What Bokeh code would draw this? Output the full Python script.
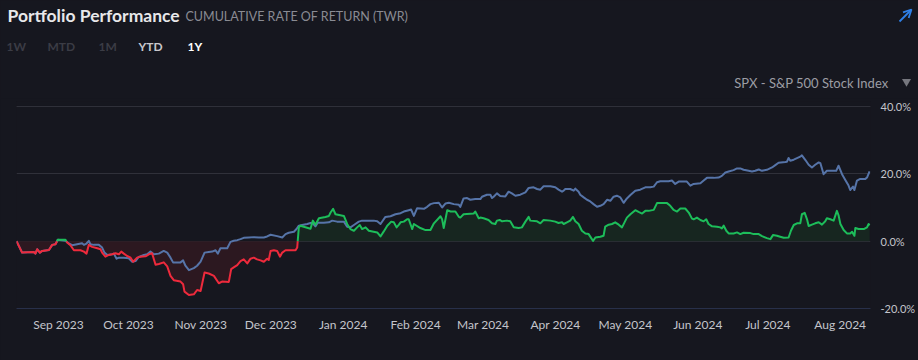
import numpy as np
import pandas as pd
from bokeh.plotting import figure
from bokeh.models import (Range1d, FixedTicker, PrintfTickFormatter, Arrow, OpenHead,
                          DatetimeTickFormatter, Span)
from bokeh.core.properties import value
from bokeh.embed import file_html
from bokeh.resources import INLINE

# ---------------- data ----------------
START = "2023-08-14"
END = "2024-08-14"

# portfolio: days since START, cumulative return in %
port_days = [0.0, 1.0, 2.4, 7.4, 8.1, 8.9, 10.0, 11.0, 13.9, 15.3, 16.7, 17.7, 21.0, 21.7, 23.1,
             24.6, 27.4, 28.9, 30.0, 31.0, 32.4, 34.6, 36.0, 36.7, 38.1, 39.6, 41.0, 42.4, 43.9,
             44.9, 46.0, 47.4, 48.9, 50.0, 51.7, 53.1, 55.3, 56.7, 58.1, 59.6, 61.0, 63.1, 64.6,
             66.0, 67.4, 70.3, 71.4, 72.0, 73.9, 76.0, 77.4, 78.9, 80.6, 82.4, 84.6, 86.7, 88.1,
             91.0, 92.0, 93.1, 94.6, 96.0, 97.4, 98.9, 100.3, 101.7, 103.1, 104.6, 106.0, 107.4,
             108.1, 108.9, 110.3, 111.7, 112.9, 113.9, 115.3, 119.6, 120.3, 121.0, 121.7, 123.1,
             126.0, 127.0, 128.1, 129.6, 132.4, 133.9, 134.6, 135.7, 136.7, 140.3, 141.7, 143.1,
             144.6, 146.0, 147.1, 148.1, 149.6, 151.0, 154.6, 156.0, 157.4, 158.9, 160.6, 161.7,
             162.9, 163.9, 164.6, 166.0, 167.4, 168.1, 169.6, 170.3, 173.1, 175.3, 177.4, 178.9,
             181.7, 182.4, 183.1, 184.6, 186.0, 188.1, 189.6,
             190.2, 191.6, 195.9, 196.6, 198.1, 198.8, 200.2, 202.3, 203.8, 205.2, 205.9, 207.1,
             208.1, 210.2, 211.6, 213.1, 215.2, 216.6, 218.1, 219.5, 220.2, 223.1, 224.5, 225.9,
             228.8, 230.9, 232.3, 233.8, 234.5, 235.9, 237.3, 238.5, 239.5, 240.9, 242.3, 243.8,
             245.2, 246.6, 247.1, 248.1, 250.2, 251.6, 252.3, 253.8, 255.2, 256.6, 258.1, 259.5,
             261.6, 263.1, 265.2, 266.6, 268.1, 269.5, 270.9, 273.1, 274.5, 275.9, 278.8, 280.2,
             281.6, 283.1, 284.5, 286.6, 288.1, 289.5, 290.2, 291.6, 293.1, 294.5, 295.6, 296.6,
             298.1, 300.2, 301.6, 302.3, 303.1, 304.2, 305.2, 307.3, 308.8, 310.2, 311.6, 314.5,
             315.9, 318.1, 319.5, 321.6, 323.1, 324.2, 325.9, 327.3, 328.8, 330.9, 331.9, 333.1,
             334.5, 335.9, 336.6, 337.8, 338.8, 339.5, 340.9, 342.3, 343.8, 345.2, 346.6, 347.3,
             348.8, 350.2, 351.6, 352.3, 353.1, 354.5, 355.9, 357.3, 358.1, 359.1, 359.5, 360.9,
             363.1, 364.5, 365.2, 365.6]
port_vals = [0.0, -1.4, -3.4, -3.2, -3.7, -2.4, -3.4, -2.9, -2.6, -1.1, -0.9, 0.4, 0.4, -0.4, -1.2,
             -2.7, -2.7, -3.1, -3.7, -1.1, -1.7, -2.1, -2.4, -3.4, -4.6, -4.1, -3.9, -3.6, -3.9,
             -3.1, -3.7, -4.4, -4.9, -6.1, -4.9, -4.6, -4.5, -3.9, -3.6, -7.0, -6.8, -6.3, -7.5,
             -10.3, -11.6, -12.0, -12.8, -15.0, -16.0, -15.8, -14.5, -14.8, -9.3, -9.6, -10.3, -12.5, -12.0,
             -12.1, -8.3, -7.8, -7.1, -5.9, -5.4, -6.6, -5.2, -4.9, -5.4, -5.7, -6.1, -5.2,
             -5.6, -2.9, -2.7, -2.9, -4.6, -3.4, -2.7, -2.7, -1.9, 4.1, 4.6, 4.3,
             3.7, 6.1, 4.9, 6.8, 7.2, 7.5, 8.5, 9.6, 8.0, 7.5, 5.1, 3.6,
             3.1, 4.1, 4.8, 3.6, 4.1, 3.1, 2.6, 1.4, 2.9, 4.6, 5.8, 5.6,
             4.1, 4.9, 5.6, 5.8, 6.5, 6.5, 3.6, 5.1, 3.9, 3.3, 3.3, 5.3,
             7.4, 6.5, 3.9, 9.2, 8.8, 8.8, 7.2,
             7.0, 8.0, 8.2, 8.8, 6.8, 7.0, 6.8, 6.3, 5.3, 5.1, 6.1, 6.3,
             5.9, 6.1, 5.9, 4.1, 3.9, 4.1, 5.8, 7.2, 6.1, 5.9, 5.3, 6.3,
             6.1, 5.8, 5.4, 5.6, 5.1, 5.6, 6.1, 7.2, 5.9, 5.1, 3.1, 2.3,
             2.1, 0.6, 0.1, 1.1, 1.3, 1.6, 4.3, 4.9, 5.1, 5.6, 4.9, 4.1,
             7.0, 8.0, 9.2, 8.7, 8.2, 9.0, 9.0, 9.3, 11.3, 11.3, 11.3, 10.5,
             9.3, 8.8, 9.7, 9.7, 8.5, 6.7, 6.5, 7.0, 6.3, 5.9, 6.5, 5.1,
             4.4, 4.3, 4.1, 3.8, 4.6, 3.1, 2.3, 2.3, 2.6, 2.1, 2.5, 2.4,
             2.1, 2.1, 1.5, 0.9, 0.6, 1.8, 1.6, 1.3, 1.0, 1.1, 3.1, 4.8,
             5.3, 5.3, 8.0, 8.4, 6.5, 4.5, 4.9, 5.3, 5.6, 4.9, 5.9, 6.8,
             6.5, 6.1, 9.0, 7.7, 5.1, 3.3, 2.3, 2.3, 2.8, 1.6, 3.9, 3.6,
             3.6, 4.1, 5.1, 4.7]

# benchmark SPX: days since START, cumulative return in %
spx_days = [0.0, 1.0, 2.4, 7.4, 8.1, 8.9, 10.0, 11.0, 13.9, 15.3, 16.7, 17.7, 21.0, 22.4, 23.9,
            26.0, 28.1, 28.9, 30.0, 31.0, 31.7, 33.1, 35.3, 36.7, 37.7, 38.9, 41.0, 41.7, 42.9,
            43.9, 46.0, 48.1, 49.6, 51.0, 52.4, 54.6, 56.0, 57.4, 58.9, 61.0, 63.1, 64.6, 66.0,
            67.1, 70.3, 71.4, 72.4, 73.9, 76.0, 77.4, 78.9, 80.6, 82.4, 83.9, 85.3, 86.3, 87.4,
            90.3, 91.7, 93.1, 94.6, 96.0, 97.4, 99.6, 101.7, 103.9, 106.0, 107.4, 108.9, 111.7,
            113.9, 115.3, 116.7, 118.9, 120.0, 121.0, 122.4, 124.6, 126.0, 127.0, 128.1, 129.1,
            131.7, 133.9, 135.3, 137.4, 140.3, 141.7, 143.1, 144.6, 146.7, 148.1, 153.1, 154.6,
            156.0, 158.1, 160.3, 162.4, 164.6, 166.0, 168.1, 169.1, 170.3, 171.7, 174.6, 176.0,
            177.4, 178.9, 181.0, 182.4, 183.9, 185.3, 187.4, 189.6,
            190.2, 191.6, 193.1, 194.5, 196.6, 198.8, 199.5, 201.6, 203.1, 203.8, 204.5, 205.9,
            207.3, 209.5, 210.9, 212.3, 213.8, 215.9, 218.1, 219.5, 221.6, 223.1, 224.5, 225.9,
            228.8, 230.9, 232.3, 233.8, 234.5, 235.2, 237.3, 238.8, 239.5, 240.9, 241.6, 243.1,
            244.5, 245.9, 247.3, 248.8, 250.2, 251.6, 253.1, 254.5, 255.9, 257.3, 258.8, 260.2,
            261.6, 263.1, 265.2, 267.3, 269.5, 271.6, 273.1, 274.5, 275.9, 279.5, 280.9, 282.3,
            283.8, 287.3, 288.8, 290.2, 293.1, 294.5, 295.9, 298.8, 300.9, 302.3, 303.8, 305.2,
            307.3, 308.8, 310.2, 311.6, 313.8, 315.2, 316.6, 318.1, 319.5, 321.6, 323.8, 325.2,
            326.6, 329.5, 330.2, 330.9, 331.6, 333.1, 335.9, 336.6, 338.1, 339.5, 340.9, 342.3,
            343.8, 344.5, 345.9, 347.3, 351.3, 352.3, 353.8, 355.2, 356.6, 357.3, 358.5, 359.1,
            360.2, 361.6, 363.8, 364.5, 365.6]
spx_vals = [0.0, -1.4, -3.4, -3.2, -3.7, -2.4, -3.4, -2.9, -2.6, -1.1, -0.9, 0.4, 0.1, -0.7, -1.2,
            -0.9, -0.6, -1.1, -0.7, 0.1, -0.9, -1.1, -1.1, -1.9, -3.4, -4.1, -3.9, -3.7, -5.2,
            -4.9, -4.9, -5.1, -6.1, -5.9, -4.7, -4.1, -3.9, -3.1, -3.9, -3.7, -2.9, -3.4, -4.9,
            -6.3, -6.3, -5.7, -7.3, -8.6, -8.0, -7.3, -6.1, -3.4, -3.2, -3.1, -2.7, -3.7, -2.1,
            -2.1, -0.2, 0.1, 0.3, 0.6, 1.0, 1.1, 1.2, 1.1, 1.1, 1.4, 1.9, 1.5,
            1.1, 2.1, 2.5, 2.8, 3.6, 4.6, 4.8, 5.1, 5.4, 5.3, 4.4, 5.5,
            5.5, 5.6, 6.1, 5.8, 5.8, 4.3, 4.1, 4.8, 5.8, 6.1, 6.1, 5.9,
            5.1, 7.2, 7.4, 8.0, 8.3, 8.8, 9.2, 9.4, 7.5, 9.8, 9.6, 10.2,
            11.0, 11.3, 11.4, 10.0, 11.2, 11.4, 11.0, 10.8,
            10.2, 12.7, 12.8, 12.3, 12.5, 12.5, 13.2, 13.8, 13.8, 12.8, 13.2, 14.2,
            13.4, 13.3, 14.7, 14.2, 13.5, 13.8, 14.5, 15.8, 16.0, 15.5, 15.3, 16.3,
            16.3, 16.0, 15.3, 14.7, 15.0, 15.5, 15.5, 15.0, 15.6, 14.7, 13.8, 13.0,
            12.3, 11.8, 11.0, 10.2, 10.5, 11.0, 12.3, 12.0, 13.2, 13.5, 13.0, 11.4,
            12.7, 13.7, 15.0, 15.3, 16.0, 16.0, 16.2, 17.5, 17.8, 17.8, 18.0, 17.0,
            17.7, 17.7, 16.5, 17.0, 17.2, 18.0, 18.8, 18.8, 18.9, 19.4, 20.4, 20.7,
            21.1, 21.6, 21.6, 21.2, 20.9, 20.7, 20.9, 21.3, 20.9, 21.2, 21.9, 22.6,
            23.3, 23.5, 23.6, 24.7, 23.9, 24.2, 25.1, 25.5, 24.1, 22.7, 21.9, 22.7,
            23.4, 23.2, 19.9, 20.9, 20.9, 22.4, 19.9, 18.2, 16.5, 15.2, 16.2, 15.2,
            18.0, 18.5, 18.5, 18.9, 20.7]

month_ticks = ["2023-09-01", "2023-10-01", "2023-11-01", "2023-12-01", "2024-01-01", "2024-02-01",
               "2024-03-01", "2024-04-01", "2024-05-01", "2024-06-01", "2024-07-01", "2024-08-01"]
month_labels = ["Sep 2023", "Oct 2023", "Nov 2023", "Dec 2023", "Jan 2024", "Feb 2024",
                "Mar 2024", "Apr 2024", "May 2024", "Jun 2024", "Jul 2024", "Aug 2024"]
y_ticks = [-20, 0, 20, 40]

title_text = "Portfolio Performance"
subtitle_text = "CUMULATIVE RATE OF RETURN (TWR)"
tab_labels = ["1W", "MTD", "1M", "YTD", "1Y"]
benchmark_text = "SPX - S&P 500 Stock Index"

# ---------------- styles ----------------
BG = "#16171f"
GRID = "#30313a"
BLUE = "#5674a8"
RED = "#ee2a3c"
GREEN = "#1dbd5a"
RED_FILL = "#2c1820"
GREEN_FILL = "#172620"
FONT = "Lato"
W = 918
HEAD_H = 98

start = pd.Timestamp(START)
end = pd.Timestamp(END)


def to_dt(days):
    return (start + pd.to_timedelta(np.asarray(days, dtype=float), unit="D")).to_numpy()


# ---------------- header strip (pixel coordinates, y downwards) ----------------
h = figure(width=W, height=HEAD_H, x_range=Range1d(0, W), y_range=Range1d(HEAD_H, 0),
           x_axis_location=None, y_axis_location=None,
           min_border=0, min_border_left=0, min_border_right=0, min_border_top=0,
           min_border_bottom=0, output_backend="svg", toolbar_location=None)
h.background_fill_color = BG
h.border_fill_color = BG
h.outline_line_color = None
h.grid.visible = False

h.text(x=[7], y=[15], text=[title_text], text_font=value(FONT), text_font_size="17.5px",
       text_font_style="bold", text_color="#e8e8ea", text_baseline="middle")
h.text(x=[185], y=[16], text=[subtitle_text], text_font=value(FONT), text_font_size="12.5px",
       text_color="#8a8b93", text_baseline="middle")
h.text(x=[6, 47, 98, 138, 187], y=[46] * 5, text=tab_labels, text_font=value(FONT),
       text_font_size="12px", text_font_style="bold",
       text_color=["#3b3c45", "#3b3c45", "#3b3c45", "#c8c8cc", "#ffffff"],
       text_baseline="middle")
h.text(x=[888], y=[82], text=[benchmark_text], text_font=value(FONT), text_font_size="13px",
       text_color="#9c9da4", text_baseline="middle", text_align="right")
h.scatter(x=[906], y=[81], marker="inverted_triangle", size=9, fill_color="#76777e",
          line_color=None)
ARROW = "#2f80e8"
h.add_layout(Arrow(x_start=899, y_start=21, x_end=911, y_end=9, line_color=ARROW,
                   line_width=1.8, end=OpenHead(size=8, line_color=ARROW, line_width=1.8)))

# ---------------- chart ----------------
d = np.asarray(port_days, dtype=float)
v = np.asarray(port_vals, dtype=float)
xs, ys = [d[0]], [v[0]]
for i in range(1, len(d)):
    if v[i - 1] * v[i] < 0:
        t = v[i - 1] / (v[i - 1] - v[i])
        xs.append(d[i - 1] + t * (d[i] - d[i - 1]))
        ys.append(0.0)
    xs.append(d[i])
    ys.append(v[i])
xs = np.array(xs)
ys = np.array(ys)
x_dt = to_dt(xs)
neg = np.minimum(ys, 0.0)
pos = np.maximum(ys, 0.0)
red_line = np.where(ys <= 0, ys, np.nan)
green_line = np.where(ys >= 0, ys, np.nan)

# frame: 207 px tall for -20 .. 41.5 (headroom keeps the 40% grid line well inside the frame,
# still at page y ~106 as in the reference)
p = figure(width=W, height=360 - HEAD_H, x_axis_type="datetime", y_axis_location="right",
           x_range=Range1d(start, end), y_range=Range1d(-20, 41.485),
           output_backend="svg", toolbar_location=None,
           min_border_left=16, min_border_right=48, min_border_top=3, min_border_bottom=52)
p.background_fill_color = BG
p.border_fill_color = BG
p.outline_line_color = None

p.varea(x=x_dt, y1=np.zeros_like(neg), y2=neg, fill_color=RED_FILL)
p.varea(x=x_dt, y1=np.zeros_like(pos), y2=pos, fill_color=GREEN_FILL)

p.line(to_dt(spx_days), spx_vals, line_color=BLUE, line_width=2, line_join="round")
p.line(x_dt, red_line, line_color=RED, line_width=2, line_join="round")
p.line(x_dt, green_line, line_color=GREEN, line_width=2, line_join="round")

tick_ms = [int(pd.Timestamp(s).value // 10**6) for s in month_ticks]
p.xaxis.ticker = FixedTicker(ticks=tick_ms)
fmt = "%b %Y"
p.xaxis.formatter = DatetimeTickFormatter(milliseconds=fmt, seconds=fmt, minsec=fmt, minutes=fmt,
                                          hourmin=fmt, hours=fmt, days=fmt, months=fmt, years=fmt)
p.xaxis.major_label_overrides = {t: l for t, l in zip(tick_ms, month_labels)}
p.xaxis.axis_line_color = "#28304a"
p.xaxis.major_tick_line_color = None
p.xaxis.minor_tick_line_color = None
p.xaxis.major_tick_out = 0
p.xaxis.minor_tick_out = 0
p.xaxis.major_label_text_color = "#c4c5cb"
p.xaxis.major_label_text_font = FONT
p.xaxis.major_label_text_font_size = "12px"
p.xaxis.major_label_standoff = 8

p.yaxis.ticker = FixedTicker(ticks=y_ticks)
p.yaxis.formatter = PrintfTickFormatter(format="%.1f%%")
p.yaxis.axis_line_color = None
p.yaxis.major_tick_line_color = None
p.yaxis.minor_tick_line_color = None
p.yaxis.major_tick_out = 0
p.yaxis.minor_tick_out = 0
p.yaxis.major_label_text_color = "#c4c5cb"
p.yaxis.major_label_text_font = FONT
p.yaxis.major_label_text_font_size = "11px"
p.yaxis.major_label_standoff = 10

p.xgrid.visible = False
p.ygrid.ticker = FixedTicker(ticks=y_ticks)
p.ygrid.grid_line_color = GRID
p.ygrid.grid_line_width = 1
# make sure the grid line at the top tick is drawn
p.add_layout(Span(location=max(y_ticks), dimension="width", line_color=GRID, line_width=1,
                  level="underlay"))

# two independent roots stacked by the page, so the header keeps its own full-width frame;
# the page itself gets the same dark background so no seams show between the panels
html = file_html([h, p], INLINE, title="Portfolio Performance")
html = html.replace("</head>", "<style>html, body {background-color: %s;}</style></head>" % BG)
open("out.html", "w").write(html)
